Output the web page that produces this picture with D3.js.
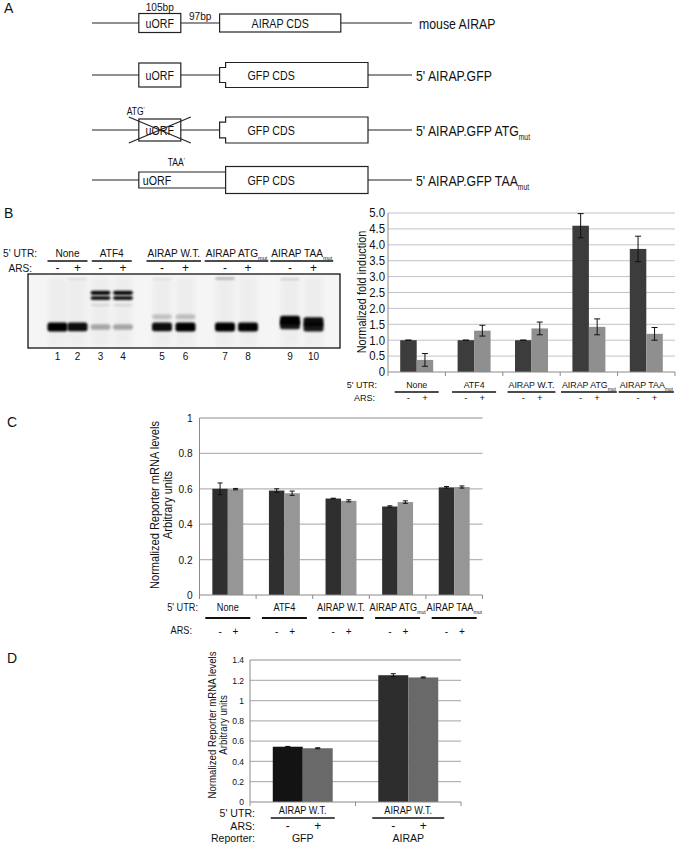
<!DOCTYPE html>
<html><head><meta charset="utf-8">
<script src="https://cdn.jsdelivr.net/npm/d3@7"></script>
<style>
body{margin:0;background:#fff}
svg{display:block}
text{font-family:"Liberation Sans",Arial,Helvetica,sans-serif;fill:#111}
</style></head>
<body><svg id="fig" width="683" height="844"></svg>
<script>
// ---------------- DATA ----------------
// Panel A : construct schematics (lengths in bp)
const constructLabels = ["mouse AIRAP", "5' AIRAP.GFP", "5' AIRAP.GFP ATG", "5' AIRAP.GFP TAA"];
const constructSubs = ["", "", "mut", "mut"];
const cdsNames = ["AIRAP CDS", "GFP CDS", "GFP CDS", "GFP CDS"];
const cdsEndBp = [622, 690, 690, 690];
const uorfState = ["wt", "wt", "atg", "taa"];
const uorfStartBp = 117, uorfLenBp = 105, spacerBp = 97, transcriptEndBp = 800;

// Panel B : gel
const utrGroups = ["None", "ATF4", "AIRAP W.T.", "AIRAP ATG", "AIRAP TAA"];
const utrSubs = ["", "", "", "mut", "mut"];
const arsLabels = ["-", "+"];
const laneNumbers = [1, 2, 3, 4, 5, 6, 7, 8, 9, 10];
// [lane, mobility (0 = top of gel, 1 = bottom), intensity]
const gelBands = [
  [1, 0.716, 1.0], [2, 0.716, 0.95],
  [3, 0.255, 0.95], [3, 0.325, 0.9], [3, 0.42, 0.1], [3, 0.716, 0.3],
  [4, 0.255, 0.95], [4, 0.325, 0.9], [4, 0.42, 0.1], [4, 0.716, 0.3],
  [5, 0.577, 0.18], [5, 0.716, 0.95], [6, 0.577, 0.2], [6, 0.716, 1.0],
  [7, 0.716, 1.0], [8, 0.716, 0.98],
  [9, 0.625, 1.0], [9, 0.69, 0.9], [10, 0.645, 0.95], [10, 0.72, 0.9],
  [2, 0.07, 0.07], [5, 0.07, 0.06], [7, 0.06, 0.25], [9, 0.07, 0.12]
];

// Panel B : normalized fold induction
const foldMinus = [1.0, 1.0, 1.0, 4.6, 3.87];
const foldMinusErr = [0, 0, 0, 0.38, 0.4];
const foldPlus = [0.38, 1.3, 1.37, 1.42, 1.2];
const foldPlusErr = [0.2, 0.17, 0.2, 0.25, 0.2];
const foldTicks = [0, 0.5, 1.0, 1.5, 2.0, 2.5, 3.0, 3.5, 4.0, 4.5, 5.0];

// Panel C : reporter mRNA
const mrnaMinus = [0.6, 0.59, 0.545, 0.5, 0.608];
const mrnaMinusErr = [0.033, 0.01, 0.002, 0.004, 0.005];
const mrnaPlus = [0.598, 0.575, 0.532, 0.525, 0.61];
const mrnaPlusErr = [0.004, 0.012, 0.006, 0.007, 0.006];
const mrnaTicks = [0, 0.2, 0.4, 0.6, 0.8, 1];

// Panel D : reporter mRNA, GFP vs AIRAP
const reporters = ["GFP", "AIRAP"];
const reporterUtr = ["AIRAP W.T.", "AIRAP W.T."];
const repMinus = [0.545, 1.25];
const repMinusErr = [0.003, 0.015];
const repPlus = [0.53, 1.228];
const repPlusErr = [0.005, 0.005];
const repTicks = [0, 0.2, 0.4, 0.6, 0.8, 1, 1.2, 1.4];

// ---------------- HELPERS ----------------
const svg = d3.select('#fig');
const defs = svg.append('defs');
defs.append('filter').attr('id', 'blur').attr('x', '-50%').attr('y', '-100%').attr('width', '200%').attr('height', '300%')
  .append('feGaussianBlur').attr('stdDeviation', 0.9);
defs.append('filter').attr('id', 'blur2').attr('x', '-50%').attr('y', '-50%').attr('width', '200%').attr('height', '200%')
  .append('feGaussianBlur').attr('stdDeviation', 2.5);

function T(g, x, y, s, o = {}) {
  const fs = o.fs || 11;
  const t = g.append('text').attr('x', x).attr('y', y).attr('dy', '0.35em')
    .attr('font-size', fs).attr('text-anchor', o.anchor || 'start');
  if (o.sub) {
    t.append('tspan').text(s);
    t.append('tspan').attr('font-size', fs * 0.55).attr('dy', fs * 0.28).text(o.sub);
  } else t.text(s);
  if (o.sx && o.sx !== 1) t.attr('transform', `translate(${x},${y}) scale(${o.sx},1) translate(${-x},${-y})`);
  return t;
}
function condense(sel, sx) {
  sel.each(function () {
    const t = d3.select(this);
    const x = +t.attr('x') || 0, y = +t.attr('y') || 0;
    const tr = t.attr('transform') || '';
    t.attr('transform', `${tr} translate(${x},${y}) scale(${sx},1) translate(${-x},${-y})`);
  });
}
function underline(g, cx, y, w, sw) {
  g.append('line').attr('x1', cx - w / 2).attr('x2', cx + w / 2).attr('y1', y).attr('y2', y)
    .attr('stroke', '#111').attr('stroke-width', sw || 1.6);
}

// panel letters
T(svg, 4, 8, 'A', { fs: 14 });
T(svg, 4, 213, 'B', { fs: 14 });
T(svg, 7, 422, 'C', { fs: 14 });
T(svg, 7, 658, 'D', { fs: 14 });

// ---------------- PANEL A ----------------
const gA = svg.append('g');
const bp = d3.scaleLinear().domain([0, transcriptEndBp]).range([92, 412]);
const rowYs = [23, 75, 130, 180];
const cdsH = [18, 25, 26, 27];
const uorfH = [19, 24, 22, 16];
constructLabels.forEach((lab, i) => {
  const y = rowYs[i];
  const u0 = bp(uorfStartBp), u1 = bp(uorfStartBp + uorfLenBp), c0 = bp(uorfStartBp + uorfLenBp + spacerBp), c1 = bp(cdsEndBp[i]);
  const line = (x1, x2) => gA.append('line').attr('x1', x1).attr('x2', x2).attr('y1', y).attr('y2', y).attr('stroke', '#222').attr('stroke-width', 1.2);
  line(bp(0), u0); line(c1, bp(transcriptEndBp));
  const st = uorfState[i];
  const isGFP = i > 0;
  const notchX = c0 + 6;
  if (st !== 'taa') line(u1, c0);
  const h = cdsH[i];
  if (isGFP && st !== 'taa') {
    const yt = y - h / 2, yb = y + h / 2, n1 = y - h * 0.3, n2 = y + h * 0.3;
    gA.append('path').attr('d', `M${notchX},${yt}H${c1}V${yb}H${notchX}V${n2}H${c0}V${n1}H${notchX}Z`)
      .attr('fill', '#fff').attr('stroke', '#222').attr('stroke-width', 1.2);
  } else if (st === 'taa') {
    const uh = uorfH[i];
    gA.append('path').attr('d', `M${notchX},${y - uh / 2}H${u0}V${y + uh / 2}H${notchX}`)
      .attr('fill', '#fff').attr('stroke', '#222').attr('stroke-width', 1.2);
    gA.append('rect').attr('x', notchX).attr('y', y - h / 2).attr('width', c1 - notchX).attr('height', h)
      .attr('fill', 'none').attr('stroke', '#222').attr('stroke-width', 1.2);
  } else {
    gA.append('rect').attr('x', c0).attr('y', y - h / 2).attr('width', c1 - c0).attr('height', h)
      .attr('fill', '#fff').attr('stroke', '#222').attr('stroke-width', 1.2);
  }
  if (st !== 'taa') {
    const uh = uorfH[i];
    gA.append('rect').attr('x', u0).attr('y', y - uh / 2).attr('width', u1 - u0).attr('height', uh)
      .attr('fill', '#fff').attr('stroke', '#222').attr('stroke-width', 1.2);
    T(gA, (u0 + u1) / 2, y, 'uORF', { fs: 13, anchor: 'middle', sx: 0.82 });
  } else {
    T(gA, u0 + 4, y, 'uORF', { fs: 13, sx: 0.82 });
  }
  if (st === 'atg') {
    const hx = 10, hy = 13;
    gA.append('line').attr('x1', u0 - hx).attr('y1', y - hy).attr('x2', u1 + hx).attr('y2', y + hy).attr('stroke', '#222').attr('stroke-width', 1.2);
    gA.append('line').attr('x1', u0 - hx).attr('y1', y + hy).attr('x2', u1 + hx).attr('y2', y - hy).attr('stroke', '#222').attr('stroke-width', 1.2);
    const t = T(gA, u0 - 12, y - 18, 'ATG', { fs: 10, sx: 0.85 });
    t.append('tspan').attr('font-size', 7).attr('dy', -3).text("'");
  }
  if (st === 'taa') {
    const t = T(gA, u1 - 13, y - 17, 'TAA', { fs: 10, sx: 0.85 });
    t.append('tspan').attr('font-size', 7).attr('dy', -3).text("'");
  }
  if (isGFP) T(gA, c0 + 28, y, cdsNames[i], { fs: 13, sx: 0.82 });
  else T(gA, (c0 + c1) / 2, y, cdsNames[i], { fs: 13, anchor: 'middle', sx: 0.82 });
  if (i === 0) {
    T(gA, (u0 + u1) / 2, 6.5, uorfLenBp + 'bp', { fs: 11.5, anchor: 'middle', sx: 0.88 });
    T(gA, (u1 + c0) / 2, 16, spacerBp + 'bp', { fs: 11.5, anchor: 'middle', sx: 0.88 });
  }
  T(gA, bp(transcriptEndBp) + (i === 0 ? 7 : 4), y + 1, lab, { fs: 15, sx: 0.82, sub: constructSubs[i] });
});

// ---------------- PANEL B : GEL ----------------
const gG = svg.append('g');
const laneX = d3.scaleLinear().domain(laneNumbers).range([57.5, 77.5, 100.5, 123, 162, 185.5, 225, 248, 290, 313.5]);
const gelY = d3.scaleLinear().domain([0, 1]).range([274, 348]);
gG.append('rect').attr('x', 28).attr('y', gelY(0)).attr('width', 312).attr('height', gelY(1) - gelY(0)).attr('fill', '#f5f5f5');
laneNumbers.forEach(l => {
  gG.append('rect').attr('x', laneX(l) - 9).attr('y', gelY(0.05)).attr('width', 18).attr('height', gelY(0.97) - gelY(0.05))
    .attr('fill', '#dcdcdc').attr('opacity', 0.3).attr('filter', 'url(#blur2)');
});
gelBands.forEach(([l, m, k]) => {
  const h = m > 0.5 ? 4 + 5 * k : 2 + 2.2 * k;
  gG.append('rect').attr('x', laneX(l) - 10).attr('y', gelY(m) - h / 2).attr('width', 20).attr('height', h)
    .attr('rx', 2.5).attr('fill', '#000').attr('opacity', Math.min(1, k)).attr('filter', 'url(#blur)');
});
gG.append('rect').attr('x', 28).attr('y', gelY(0)).attr('width', 312).attr('height', gelY(1) - gelY(0))
  .attr('fill', 'none').attr('stroke', '#111').attr('stroke-width', 1.3);
T(gG, 37, 253, "5' UTR:", { fs: 11, anchor: 'end', sx: 0.92 });
T(gG, 32, 268, 'ARS:', { fs: 11, anchor: 'end', sx: 0.92 });
utrGroups.forEach((g, i) => {
  const l1 = laneNumbers[2 * i], l2 = laneNumbers[2 * i + 1];
  const cx = (laneX(l1) + laneX(l2)) / 2;
  const t = T(gG, cx, 253, g, { fs: 11, anchor: 'middle', sx: 0.92, sub: utrSubs[i] });
  const w = Math.max(40, t.node().getComputedTextLength() * 0.92 + 2);
  underline(gG, cx, 261, w, 1.4);
  T(gG, laneX(l1), 268, arsLabels[0], { fs: 12, anchor: 'middle' });
  T(gG, laneX(l2), 268, arsLabels[1], { fs: 12, anchor: 'middle' });
});
laneNumbers.forEach(l => T(gG, laneX(l), 356, String(l), { fs: 10, anchor: 'middle' }));

// ---------------- grouped bar chart helper ----------------
function barChart(o) {
  const g = svg.append('g');
  const x = d3.scaleBand().domain(o.groups).range([o.x0, o.x1]);
  const xs = d3.scaleBand().domain(arsLabels).range([0, x.bandwidth()]).paddingOuter(o.pad);
  const y = d3.scaleLinear().domain([0, o.ymax]).range([o.y0, o.y1]);
  o.ticks.forEach(t => {
    if (t === 0) return;
    g.append('line').attr('x1', o.x0).attr('x2', o.x1).attr('y1', y(t)).attr('y2', y(t))
      .attr('stroke', o.grid || '#bdbdbd').attr('stroke-width', o.gridW || 1);
  });
  const ax = g.append('g').attr('transform', `translate(${o.x0},0)`)
    .call(d3.axisLeft(y).tickValues(o.ticks).tickSize(o.tickLen || 0).tickPadding(o.tickPad || 3).tickFormat(o.fmt));
  ax.select('.domain').remove();
  ax.selectAll('line').attr('stroke', '#888');
  ax.selectAll('text').attr('font-size', o.tickFs).attr('font-family', '"Liberation Sans",Arial,sans-serif').attr('fill', '#222');
  if (o.tickSx) condense(ax.selectAll('text'), o.tickSx);
  const series = [[o.minus, o.minusErr, arsLabels[0]], [o.plus, o.plusErr, arsLabels[1]]];
  o.groups.forEach((grp, i) => {
    series.forEach(([vals, errs, s], j) => {
      const bx = x(grp) + xs(s);
      const col = typeof o.colors[j] === 'function' ? o.colors[j](i) : o.colors[j];
      g.append('rect').attr('x', bx).attr('y', y(vals[i])).attr('width', xs.bandwidth()).attr('height', y(0) - y(vals[i]))
        .attr('fill', col);
    });
  });
  g.append('line').attr('x1', o.x0).attr('x2', o.x0).attr('y1', y(o.ymax)).attr('y2', y(0)).attr('stroke', '#8a8a8a').attr('stroke-width', 1);
  g.append('line').attr('x1', o.x0).attr('x2', o.x1).attr('y1', y(0)).attr('y2', y(0)).attr('stroke', '#8a8a8a').attr('stroke-width', 1);
  o.groups.concat([null]).forEach(grp => {
    const xx = grp === null ? o.x1 : x(grp);
    g.append('line').attr('x1', xx).attr('x2', xx).attr('y1', y(0)).attr('y2', y(0) + 4).attr('stroke', '#8a8a8a');
  });
  o.groups.forEach((grp, i) => {
    series.forEach(([vals, errs, s]) => {
      const cx = x(grp) + xs(s) + xs.bandwidth() / 2;
      const lo = y(vals[i] - errs[i]), hi = y(vals[i] + errs[i]);
      const cw = o.capW / 2;
      if (errs[i] > 0) g.append('line').attr('x1', cx).attr('x2', cx).attr('y1', lo).attr('y2', hi).attr('stroke', '#111').attr('stroke-width', 1);
      [lo, hi].forEach(yy => g.append('line').attr('x1', cx - cw).attr('x2', cx + cw).attr('y1', yy).attr('y2', yy).attr('stroke', '#111').attr('stroke-width', 1));
    });
  });
  const tt = g.append('text').attr('text-anchor', 'middle').attr('font-size', o.titleFs);
  o.title.forEach((line, k) => {
    tt.append('tspan').attr('x', 0).attr('dy', k === 0 ? 0 : o.titleFs * 1.05).text(line);
  });
  tt.attr('transform', `translate(${o.titleX},${o.titleY}) rotate(-90) scale(${o.titleSx || 1},1)`);
  return { g, x, xs, y };
}

// ---------------- PANEL B : CHART ----------------
const B = barChart({
  groups: utrGroups, x0: 388, x1: 675, y0: 372, y1: 213, ymax: 5, pad: 0.74,
  minus: foldMinus, minusErr: foldMinusErr, plus: foldPlus, plusErr: foldPlusErr,
  ticks: foldTicks, fmt: d => d === 0 ? '0' : d3.format('.1f')(d), tickFs: 12, tickSx: 0.95, tickPad: 3,
  colors: ['#3c3c3c', '#8f8f8f'], capW: 6, grid: '#c4c4c4',
  title: ['Normalized fold induction'], titleX: 366, titleY: 292, titleFs: 13, titleSx: 0.84
});
{
  const g = B.g;
  T(g, 377, 385, "5' UTR:", { fs: 9.5, anchor: 'end', sx: 0.95 });
  T(g, 375, 398, 'ARS:', { fs: 9.5, anchor: 'end', sx: 0.95 });
  utrGroups.forEach((grp, i) => {
    const cx = B.x(grp) + B.x.bandwidth() / 2;
    const t = T(g, cx, 385, grp, { fs: 9.5, anchor: 'middle', sx: 0.93, sub: utrSubs[i] });
    const w = Math.max(44, t.node().getComputedTextLength() * 0.93 + 2);
    underline(g, cx, 392, w, 1.6);
    arsLabels.forEach(s => T(g, B.x(grp) + B.xs(s) + B.xs.bandwidth() / 2, 398, s, { fs: 9.5, anchor: 'middle' }));
  });
}

// ---------------- PANEL C ----------------
const C = barChart({
  groups: utrGroups, x0: 199.5, x1: 482.5, y0: 595, y1: 418, ymax: 1, pad: 0.83,
  minus: mrnaMinus, minusErr: mrnaMinusErr, plus: mrnaPlus, plusErr: mrnaPlusErr,
  ticks: mrnaTicks, fmt: d3.format('~g'), tickFs: 11, tickSx: 0.92, tickPad: 7, tickLen: 0,
  colors: ['#2f2f2f', '#969696'], capW: 5, grid: '#b5b5b5', gridW: 1.3,
  title: ['Normalized Reporter mRNA levels', 'Arbitrary units'], titleX: 159, titleY: 505, titleFs: 12, titleSx: 0.92
});
{
  const g = C.g;
  T(g, 198, 608, "5' UTR:", { fs: 10, anchor: 'end', sx: 0.92 });
  T(g, 192, 631, 'ARS:', { fs: 10, anchor: 'end', sx: 0.92 });
  utrGroups.forEach((grp, i) => {
    const cx = C.x(grp) + C.x.bandwidth() / 2;
    T(g, cx, 608, grp, { fs: 10, anchor: 'middle', sx: 0.92, sub: utrSubs[i] });
    underline(g, cx, 618, 45, 1.8);
    arsLabels.forEach(s => T(g, C.x(grp) + C.xs(s) + C.xs.bandwidth() / 2, 631, s, { fs: 10, anchor: 'middle' }));
  });
}

// ---------------- PANEL D ----------------
const D = barChart({
  groups: reporters, x0: 250, x1: 461, y0: 802, y1: 660, ymax: 1.4, pad: 0.76,
  minus: repMinus, minusErr: repMinusErr, plus: repPlus, plusErr: repPlusErr,
  ticks: repTicks, fmt: d3.format('~g'), tickFs: 8.5, tickSx: 1, tickPad: 6,
  colors: [i => i === 0 ? '#131313' : '#2d2d2d', '#696969'], capW: 5, grid: '#b5b5b5', gridW: 1.3,
  title: ['Normalized Reporter mRNA levels', 'Arbitrary units'], titleX: 216, titleY: 725, titleFs: 10.5, titleSx: 0.92
});
{
  const g = D.g;
  T(g, 255, 812.5, "5' UTR:", { fs: 11.5, anchor: 'end', sx: 0.92 });
  T(g, 255, 825.5, 'ARS:', { fs: 11.5, anchor: 'end', sx: 0.92 });
  T(g, 255, 837.5, 'Reporter:', { fs: 11.5, anchor: 'end', sx: 0.92 });
  const uw = [64, 72];
  reporters.forEach((grp, i) => {
    const cx = D.x(grp) + D.x.bandwidth() / 2;
    T(g, cx, 811, reporterUtr[i], { fs: 10, anchor: 'middle', sx: 0.92 });
    underline(g, cx, 818, uw[i], 1.6);
    arsLabels.forEach(s => T(g, D.x(grp) + D.xs(s) + D.xs.bandwidth() / 2, 825.5, s, { fs: 12, anchor: 'middle' }));
    T(g, cx, 837.5, grp, { fs: 11.5, anchor: 'middle', sx: 0.92 });
  });
}
</script></body></html>
